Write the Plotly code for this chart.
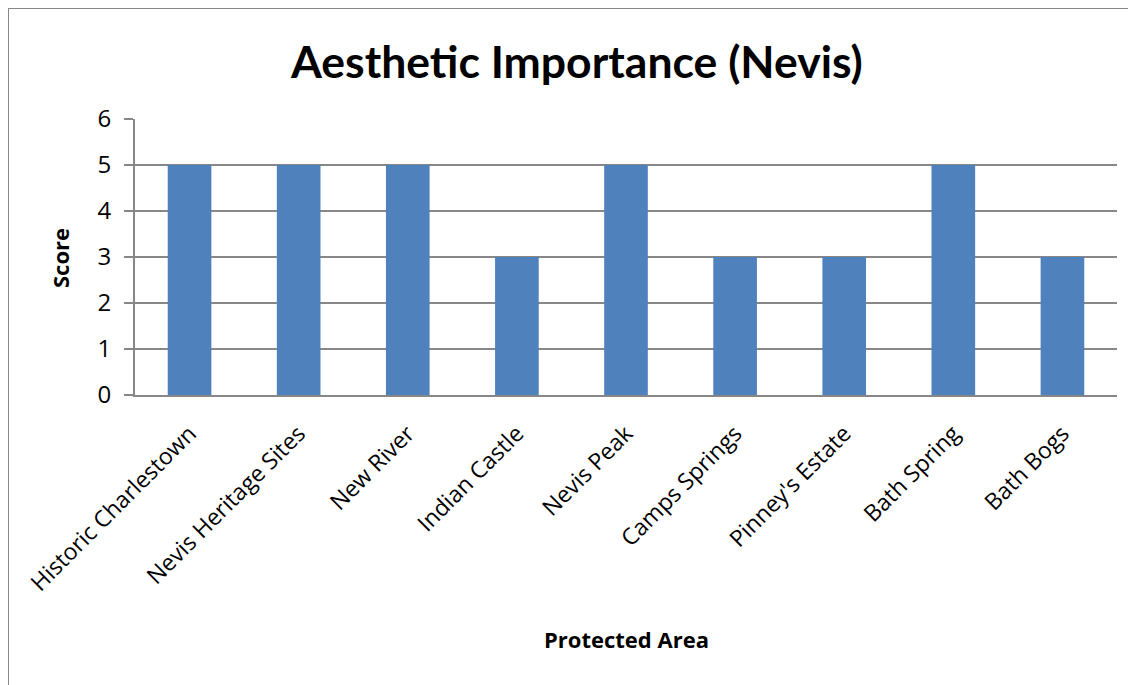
import plotly.graph_objects as go

categories = ["Historic Charlestown", "Nevis Heritage Sites", "New River", "Indian Castle",
              "Nevis Peak", "Camps Springs", "Pinney's Estate", "Bath Spring", "Bath Bogs"]
scores = [5, 5, 5, 3, 5, 3, 3, 5, 3]
y_ticks = [0, 1, 2, 3, 4, 5, 6]

OFF = 8  # default body margin of the html page
W, H = 1136 - OFF, 685 - OFF
L, R, T, B = 135 - OFF, 1117 - OFF, 119 - OFF, 395 - OFF

fig = go.Figure(go.Bar(x=categories, y=scores, marker_color="#4F81BD",
                       marker_line_width=0, width=0.4))

def px_x(p):
    return (p - OFF - L) / (R - L)

def px_y(p):
    return (B - (p - OFF)) / (B - T)

border = dict(color="#888888", width=2)

fig.update_layout(
    width=W, height=H,
    margin=dict(l=L, r=W - R, t=T, b=H - B, pad=0),
    paper_bgcolor="white", plot_bgcolor="white",
    showlegend=False,
    font=dict(family="Open Sans", color="black"),
    xaxis=dict(showline=True, linecolor="#878787", linewidth=2, ticks="",
               tickangle=-45, tickfont=dict(size=23, family="Open Sans"),
               showgrid=False, fixedrange=True, ticklabelstandoff=14),
    yaxis=dict(range=[0, 6], tickvals=y_ticks, showline=True, linecolor="#878787",
               linewidth=2, ticks="outside", ticklen=9, tickcolor="#878787", tickwidth=2,
               showgrid=True, gridcolor="#878787", gridwidth=2, zeroline=False,
               tickfont=dict(size=24, family="Open Sans"), ticklabelstandoff=8,
               fixedrange=True),
    annotations=[
        dict(text="<b>Aesthetic Importance (Nevis)</b>", xref="paper", yref="paper",
             x=px_x(576), y=px_y(61), showarrow=False, font=dict(size=44.5, family="Lato"),
             xanchor="center", yanchor="middle"),
        dict(text="<b>Score</b>", xref="paper", yref="paper", x=px_x(60), y=px_y(258),
             showarrow=False, textangle=-90, font=dict(size=22, family="Open Sans"),
             xanchor="center", yanchor="middle"),
        dict(text="<b>Protected Area</b>", xref="paper", yref="paper", x=px_x(626), y=px_y(639),
             showarrow=False, font=dict(size=22, family="Open Sans"),
             xanchor="center", yanchor="middle"),
    ],
    shapes=[
        dict(type="line", xref="paper", yref="paper",
             x0=px_x(8), y0=px_y(8), x1=px_x(8), y1=px_y(700), line=border, layer="below"),
        dict(type="line", xref="paper", yref="paper",
             x0=px_x(8), y0=px_y(8), x1=px_x(1150), y1=px_y(8), line=border, layer="below"),
    ],
)

fig.write_html("out.html")
